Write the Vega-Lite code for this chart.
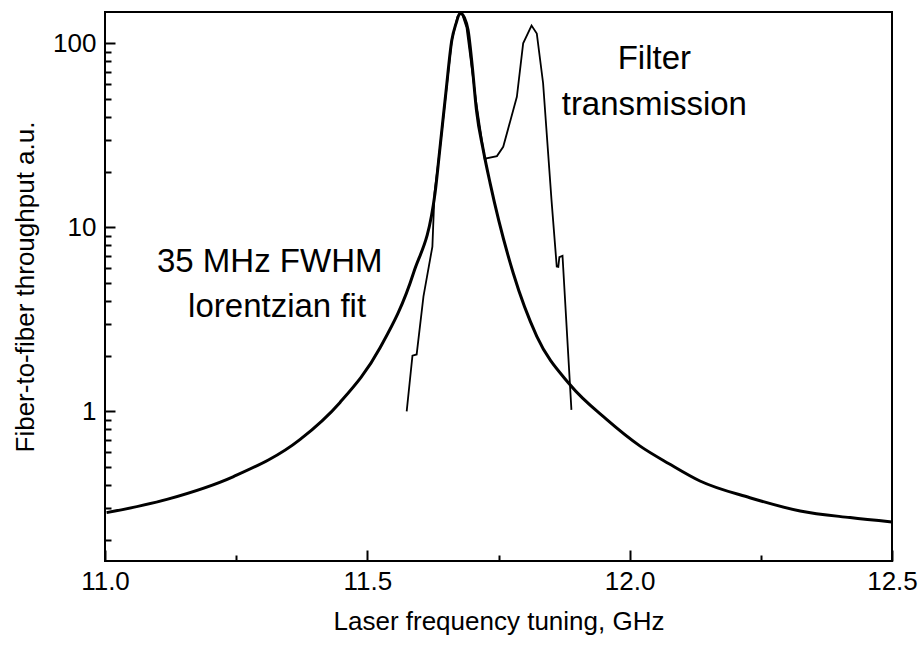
{
  "$schema": "https://vega.github.io/schema/vega-lite/v6.json",
  "width": 787,
  "height": 549,
  "autosize": {"type": "none"},
  "padding": {"left": 105, "top": 12, "right": 30, "bottom": 91},
  "background": "white",
  "config": {
    "view": {"stroke": "black", "strokeWidth": 2},
    "font": "Liberation Sans",
    "axis": {"domain": false, "grid": false, "tickColor": "black", "tickWidth": 2, "labelColor": "black", "titleColor": "black", "titleFontWeight": "normal", "labelFontSize": 26, "titleFontSize": 26, "labelFont": "Liberation Sans", "titleFont": "Liberation Sans"}
  },
  "datasets": {
    "lorentz": [
      {"ghz": 11.003, "throughput": 0.282},
      {"ghz": 11.118, "throughput": 0.333},
      {"ghz": 11.245, "throughput": 0.443},
      {"ghz": 11.372, "throughput": 0.705},
      {"ghz": 11.448, "throughput": 1.12},
      {"ghz": 11.524, "throughput": 2.21},
      {"ghz": 11.588, "throughput": 5.65},
      {"ghz": 11.629, "throughput": 15.3},
      {"ghz": 11.638, "throughput": 26.3},
      {"ghz": 11.65, "throughput": 55},
      {"ghz": 11.661, "throughput": 104},
      {"ghz": 11.669, "throughput": 128},
      {"ghz": 11.677, "throughput": 146},
      {"ghz": 11.685, "throughput": 138},
      {"ghz": 11.692, "throughput": 118},
      {"ghz": 11.7, "throughput": 75},
      {"ghz": 11.708, "throughput": 43.3},
      {"ghz": 11.721, "throughput": 26.3},
      {"ghz": 11.734, "throughput": 17.4},
      {"ghz": 11.778, "throughput": 5.65},
      {"ghz": 11.823, "throughput": 2.56},
      {"ghz": 11.886, "throughput": 1.4},
      {"ghz": 11.956, "throughput": 0.905},
      {"ghz": 12.02, "throughput": 0.648},
      {"ghz": 12.075, "throughput": 0.52},
      {"ghz": 12.134, "throughput": 0.419},
      {"ghz": 12.229, "throughput": 0.34},
      {"ghz": 12.325, "throughput": 0.288},
      {"ghz": 12.42, "throughput": 0.265},
      {"ghz": 12.5, "throughput": 0.251}
    ],
    "filter": [
      {"ghz": 11.575, "throughput": 1.0},
      {"ghz": 11.586, "throughput": 2.01},
      {"ghz": 11.594, "throughput": 2.04},
      {"ghz": 11.607, "throughput": 4.22},
      {"ghz": 11.624, "throughput": 7.87},
      {"ghz": 11.628, "throughput": 15.4},
      {"ghz": 11.638, "throughput": 26.3},
      {"ghz": 11.661, "throughput": 104},
      {"ghz": 11.672, "throughput": 140},
      {"ghz": 11.68, "throughput": 146},
      {"ghz": 11.689, "throughput": 122},
      {"ghz": 11.707, "throughput": 49},
      {"ghz": 11.724, "throughput": 23.2},
      {"ghz": 11.727, "throughput": 23.7},
      {"ghz": 11.747, "throughput": 24.4},
      {"ghz": 11.759, "throughput": 27.4},
      {"ghz": 11.785, "throughput": 51.2},
      {"ghz": 11.797, "throughput": 100},
      {"ghz": 11.813, "throughput": 125},
      {"ghz": 11.823, "throughput": 113},
      {"ghz": 11.835, "throughput": 60.7},
      {"ghz": 11.851, "throughput": 14.1},
      {"ghz": 11.861, "throughput": 6.13},
      {"ghz": 11.864, "throughput": 6.1},
      {"ghz": 11.866, "throughput": 6.9},
      {"ghz": 11.872, "throughput": 7.01},
      {"ghz": 11.889, "throughput": 1.02}
    ],
    "notes": [
      {"ghz": 11.314, "throughput": 5.74, "label": "35 MHz FWHM"},
      {"ghz": 11.328, "throughput": 3.27, "label": "lorentzian fit"},
      {"ghz": 12.047, "throughput": 72.3, "label": "Filter"},
      {"ghz": 12.047, "throughput": 40.7, "label": "transmission"}
    ]
  },
  "layer": [
    {
      "data": {"name": "lorentz"},
      "mark": {"type": "line", "color": "black", "strokeWidth": 3, "interpolate": "monotone", "clip": true},
      "encoding": {
        "x": {
          "field": "ghz", "type": "quantitative",
          "scale": {"domain": [11, 12.5], "nice": false, "zero": false},
          "axis": {
            "title": "Laser frequency tuning, GHz",
            "values": [11, 11.25, 11.5, 11.75, 12, 12.25, 12.5],
            "labelExpr": "datum.value % 0.5 == 0 ? format(datum.value, '.1f') : ''",
            "tickSize": {"condition": {"test": "datum.value % 0.5 == 0", "value": -11}, "value": -6},
            "labelPadding": 18,
            "titlePadding": 9,
            "labelFlush": false,
            "labelOverlap": false
          }
        },
        "y": {
          "field": "throughput", "type": "quantitative",
          "scale": {"type": "log", "domain": [0.154, 148], "nice": false},
          "axis": {
            "title": "Fiber-to-fiber throughput a.u.",
            "values": [0.2, 0.3, 0.4, 0.5, 0.6, 0.7, 0.8, 0.9, 1, 2, 3, 4, 5, 6, 7, 8, 9, 10, 20, 30, 40, 50, 60, 70, 80, 90, 100],
            "labelExpr": "datum.value == 1 || datum.value == 10 || datum.value == 100 ? format(datum.value, 'd') : ''",
            "tickSize": {"condition": {"test": "datum.value == 1 || datum.value == 10 || datum.value == 100", "value": -10}, "value": -6},
            "labelPadding": 19,
            "titlePadding": 14,
            "labelFlush": false,
            "labelOverlap": false
          }
        }
      }
    },
    {
      "data": {"name": "filter"},
      "mark": {"type": "line", "color": "black", "strokeWidth": 1.8, "interpolate": "linear", "clip": true},
      "encoding": {
        "x": {"field": "ghz", "type": "quantitative"},
        "y": {"field": "throughput", "type": "quantitative"}
      }
    },
    {
      "data": {"name": "notes"},
      "mark": {"type": "text", "fontSize": 33, "align": "center", "baseline": "alphabetic", "color": "black", "font": "Liberation Sans"},
      "encoding": {
        "x": {"field": "ghz", "type": "quantitative"},
        "y": {"field": "throughput", "type": "quantitative"},
        "text": {"field": "label"}
      }
    }
  ]
}
